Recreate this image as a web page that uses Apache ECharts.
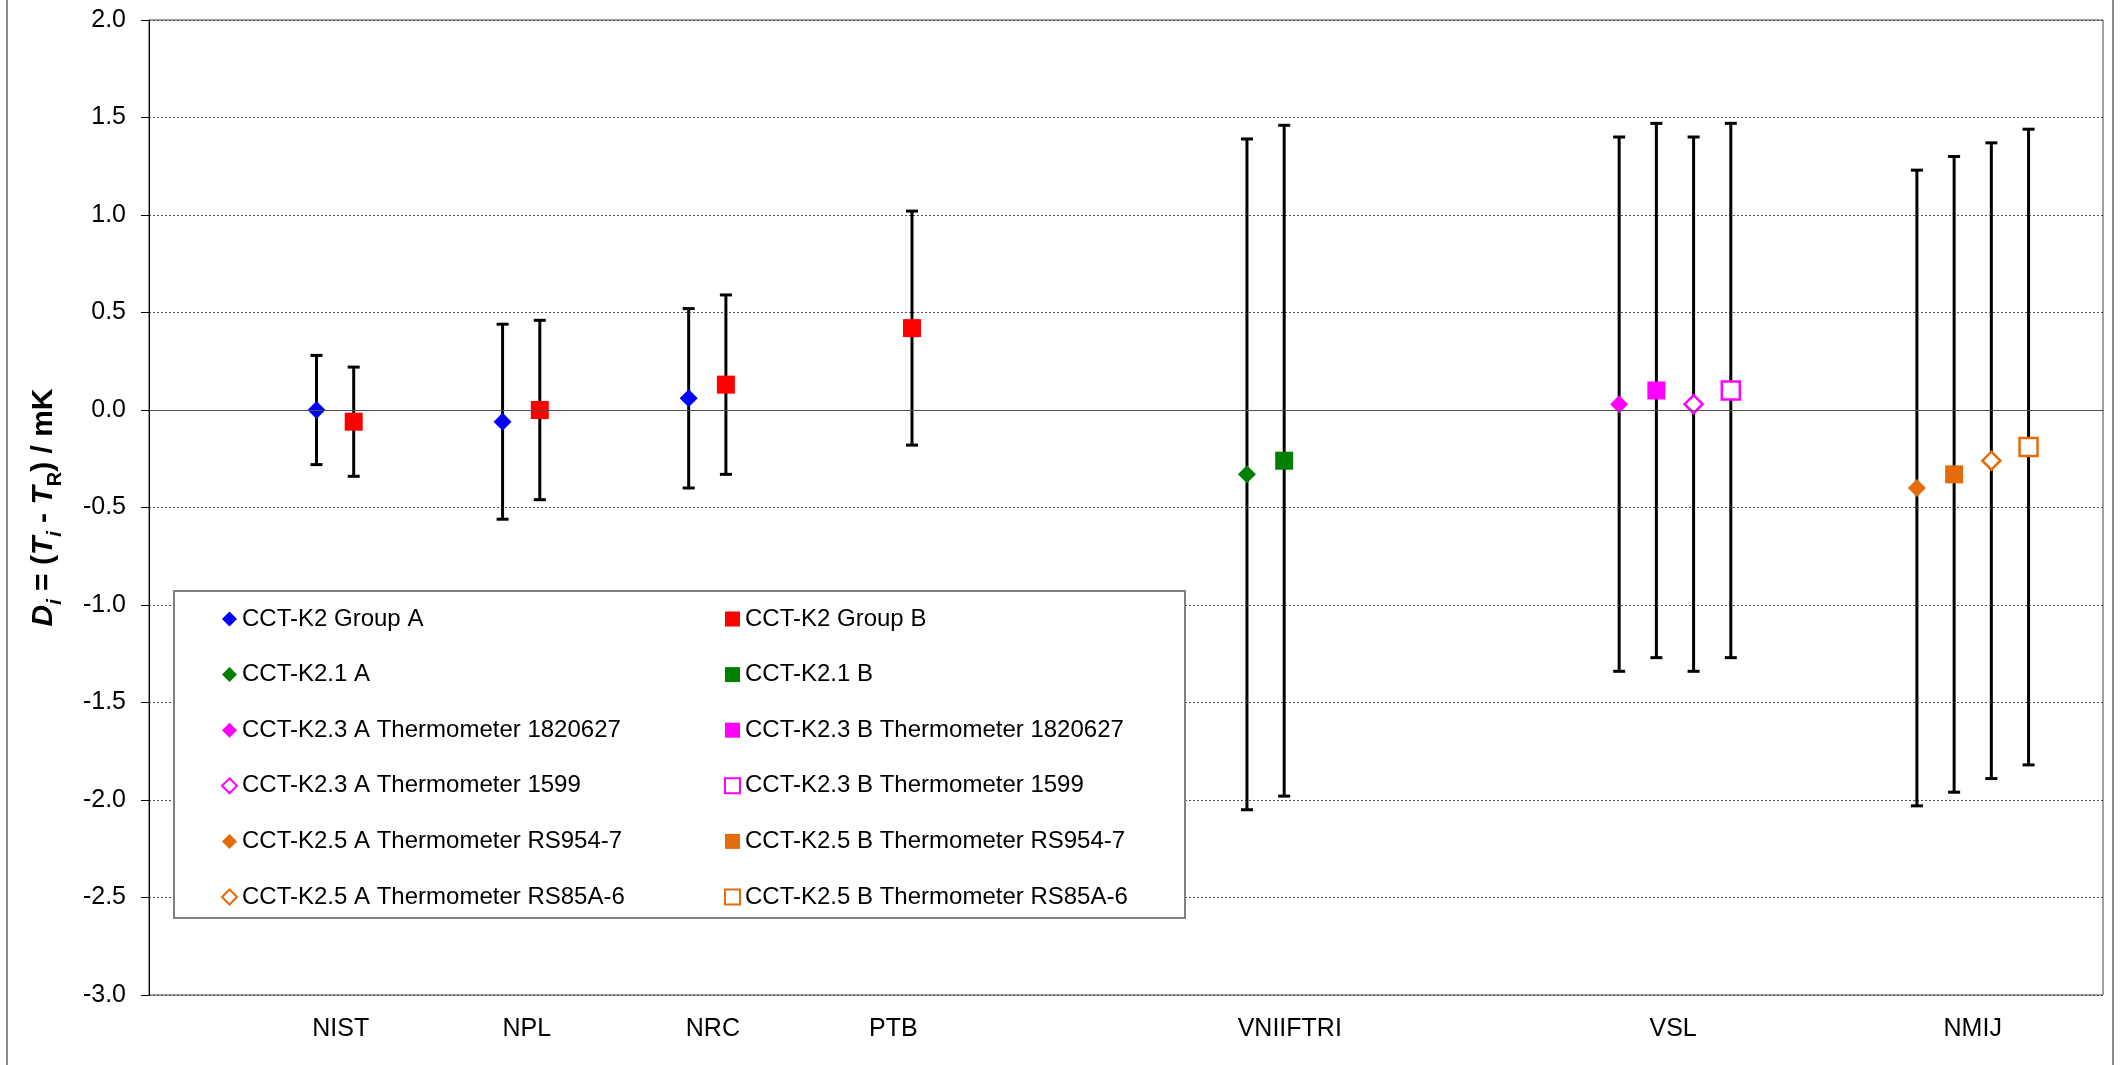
<!DOCTYPE html>
<html>
<head>
<meta charset="utf-8">
<title>CCT-K2 degrees of equivalence</title>
<script src="https://cdn.jsdelivr.net/npm/echarts@6/dist/echarts.min.js"></script>
<style>
  html, body { margin: 0; padding: 0; background: #fff; }
  #chart { width: 2121px; height: 1065px; }
</style>
</head>
<body>
<div id="chart"></div>
<script>
// institute labels and where they sit on the x scale
var labNames = ['NIST', 'NPL', 'NRC', 'PTB', 'VNIIFTRI', 'VSL', 'NMIJ'];
var labPos = [1.03, 2.03, 3.03, 4.0, 6.13, 8.19, 9.8];

// y ticks
var yMin = -3, yMax = 2, yStep = 0.5;

// series (x position, D_i in mK, expanded uncertainty in mK)
var seriesNames = [
  'CCT-K2 Group A', 'CCT-K2 Group B',
  'CCT-K2.1 A', 'CCT-K2.1 B',
  'CCT-K2.3 A Thermometer 1820627', 'CCT-K2.3 B Thermometer 1820627',
  'CCT-K2.3 A Thermometer 1599', 'CCT-K2.3 B Thermometer 1599',
  'CCT-K2.5 A Thermometer RS954-7', 'CCT-K2.5 B Thermometer RS954-7',
  'CCT-K2.5 A Thermometer RS85A-6', 'CCT-K2.5 B Thermometer RS85A-6'
];
var seriesX = [
  [0.9, 1.9, 2.9], [1.1, 2.1, 3.1, 4.1],
  [5.9], [6.1],
  [7.9], [8.1],
  [8.3], [8.5],
  [9.5], [9.7],
  [9.9], [10.1]
];
var seriesY = [
  [0.00, -0.06, 0.06], [-0.06, 0.00, 0.13, 0.42],
  [-0.33], [-0.26],
  [0.03], [0.10],
  [0.03], [0.10],
  [-0.40], [-0.33],
  [-0.26], [-0.19]
];
var seriesU = [
  [0.28, 0.50, 0.46], [0.28, 0.46, 0.46, 0.60],
  [1.72], [1.72],
  [1.37], [1.37],
  [1.37], [1.37],
  [1.63], [1.63],
  [1.63], [1.63]
];

// styles
var colors = ['#0000ff', '#ff0000', '#008000', '#008000', '#ff00ff', '#ff00ff',
  '#ff00ff', '#ff00ff', '#e46c0a', '#e46c0a', '#e46c0a', '#e46c0a'];
var hollow = [false, false, false, false, false, false, true, true, false, false, true, true];
var font = "'Liberation Sans', Arial, sans-serif";

var chart = echarts.init(document.getElementById('chart'));

var errData = [];
var series = [];
seriesNames.forEach(function (name, i) {
  var pts = [];
  seriesX[i].forEach(function (x, j) {
    pts.push([x, seriesY[i][j]]);
    errData.push([x, seriesY[i][j] - seriesU[i][j], seriesY[i][j] + seriesU[i][j]]);
  });
  var isA = i % 2 === 0;
  series.push({
    name: name,
    type: 'scatter',
    symbol: isA ? 'diamond' : 'rect',
    symbolSize: 18,
    z: 4,
    itemStyle: hollow[i]
      ? { color: '#fff', borderColor: colors[i], borderWidth: 2.5, opacity: 1 }
      : { color: colors[i], borderWidth: 0, opacity: 1 },
    data: pts
  });
});

// zero line on the first series
series[0].markLine = {
  silent: true,
  symbol: 'none',
  label: { show: false },
  lineStyle: { color: '#505050', type: 'solid', width: 1.2 },
  data: [{ yAxis: 0 }]
};

series.unshift({
  name: 'err',
  type: 'custom',
  z: 2,
  silent: true,
  renderItem: function (params, api) {
    var x = api.value(0);
    var top = api.coord([x, api.value(2)]);
    var bot = api.coord([x, api.value(1)]);
    var hw = 6;
    var st = { stroke: '#000', lineWidth: 3 };
    return {
      type: 'group',
      children: [
        { type: 'line', shape: { x1: top[0], y1: top[1], x2: bot[0], y2: bot[1] }, style: st },
        { type: 'line', shape: { x1: top[0] - hw, y1: top[1], x2: top[0] + hw, y2: top[1] }, style: st },
        { type: 'line', shape: { x1: bot[0] - hw, y1: bot[1], x2: bot[0] + hw, y2: bot[1] }, style: st }
      ]
    };
  },
  encode: { x: 0, y: [1, 2] },
  data: errData
});

var legendText = { fontSize: 24, lineHeight: 24, color: '#000', fontFamily: font };

var option = {
  animation: false,
  backgroundColor: '#fff',
  textStyle: { fontFamily: font },
  grid: {
    left: 149, right: 18, top: 20, bottom: 70,
    show: true, borderColor: '#404040', borderWidth: 1
  },
  legend: [{
    orient: 'vertical', left: 216, top: 602, itemGap: 31.6,
    itemWidth: 15, itemHeight: 15, selectedMode: false, z: 6,
    textStyle: legendText,
    data: seriesNames.filter(function (n, i) { return i % 2 === 0; })
  }, {
    orient: 'vertical', left: 719, top: 602, itemGap: 31.6,
    itemWidth: 15, itemHeight: 15, selectedMode: false, z: 6,
    textStyle: legendText,
    data: seriesNames.filter(function (n, i) { return i % 2 === 1; })
  }],
  xAxis: {
    type: 'value',
    min: 0, max: 10.5,
    axisLine: { show: true, lineStyle: { color: '#000', width: 1 } },
    axisTick: { show: false },
    splitLine: { show: false },
    axisLabel: {
      customValues: labPos,
      margin: 22,
      fontSize: 25,
      color: '#000',
      fontFamily: font,
      formatter: function (v) {
        for (var k = 0; k < labPos.length; k++) {
          if (Math.abs(labPos[k] - v) < 1e-6) return labNames[k];
        }
        return '';
      }
    }
  },
  yAxis: {
    type: 'value',
    min: yMin, max: yMax, interval: yStep,
    name: '{it|D}{sub|i}{b| = (}{it|T}{sub|i}{b| - }{it|T}{subr|R}{b|) / mK}',
    nameLocation: 'middle',
    nameGap: 90,
    nameTextStyle: {
      fontFamily: font,
      rich: {
        it: { fontSize: 30, fontWeight: 'bold', fontStyle: 'italic', color: '#000', lineHeight: 30, verticalAlign: 'top', fontFamily: font },
        b: { fontSize: 30, fontWeight: 'bold', color: '#000', lineHeight: 30, verticalAlign: 'top', fontFamily: font },
        sub: { fontSize: 20, fontWeight: 'bold', fontStyle: 'italic', color: '#000', lineHeight: 20, verticalAlign: 'top', padding: [16, 0, 0, 0], fontFamily: font },
        subr: { fontSize: 20, fontWeight: 'bold', color: '#000', lineHeight: 20, verticalAlign: 'top', padding: [16, 0, 0, 0], fontFamily: font }
      }
    },
    axisLine: { show: true, lineStyle: { color: '#000', width: 1 } },
    axisTick: { show: true, length: 8, lineStyle: { color: '#000' } },
    axisLabel: {
      margin: 23, fontSize: 25, color: '#000', fontFamily: font,
      formatter: function (v) { return v.toFixed(1); }
    },
    splitLine: { show: true, lineStyle: { color: '#505050', type: [2, 2], width: 1 } }
  },
  graphic: [
    { type: 'line', silent: true, shape: { x1: 7, y1: 0, x2: 7, y2: 1065 }, style: { stroke: '#8c8c8c', lineWidth: 2 } },
    { type: 'line', silent: true, shape: { x1: 2113, y1: 0, x2: 2113, y2: 1065 }, style: { stroke: '#8c8c8c', lineWidth: 2 } },
    { type: 'rect', silent: true, z: 5, shape: { x: 174, y: 591, width: 1011, height: 327 },
      style: { fill: '#fff', stroke: '#808080', lineWidth: 2 } }
  ],
  series: series
};

chart.setOption(option);
</script>
</body>
</html>
